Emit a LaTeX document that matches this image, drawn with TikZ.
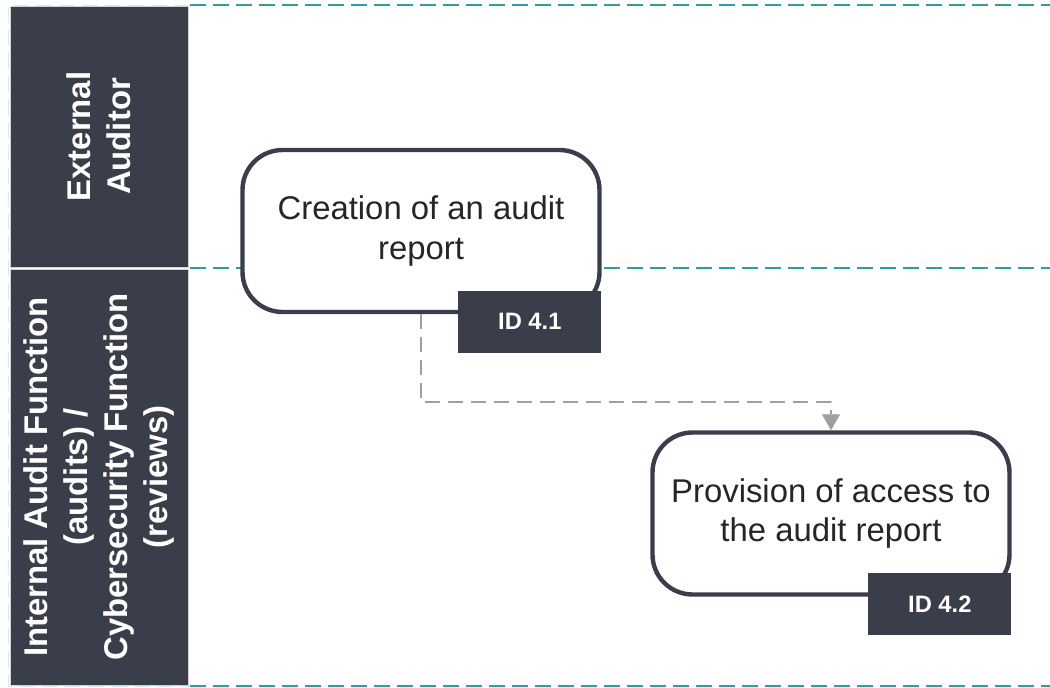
\documentclass[tikz,border=0pt]{standalone}
\usepackage{fontspec}
\setmainfont{Liberation Sans}
\usetikzlibrary{arrows.meta, positioning, calc}
\definecolor{lane_dark}{RGB}{57, 62, 74}
\definecolor{lane_teal}{RGB}{42, 160, 162}
\definecolor{flow_gray}{RGB}{160, 160, 160}

\begin{document}
\begin{tikzpicture}[
    % Node styles
    lane/.style={
        rectangle,
        draw=gray!35,
        fill=lane_dark,
        text=white,
        minimum width=3.56cm,
        minimum height=#1,
        inner sep=0pt
    },
    lanetext/.style={
        rotate=90,
        text=white,
        align=center,
        font=\fontsize{18.7}{22.7}\selectfont\bfseries
    },
    activity/.style={
        rectangle,
        draw=lane_dark,
        fill=white,
        line width=2.5pt,
        rounded corners=0.8cm,
        minimum width=7.14cm,
        minimum height=3.24cm,
        align=center,
        text=black!85,
        font=\fontsize{18.7}{22.5}\selectfont
    },
    idtag/.style={
        rectangle,
        fill=lane_dark,
        text=white,
        minimum width=2.86cm,
        minimum height=1.24cm,
        font=\fontsize{13.5}{16}\selectfont\bfseries
    },
    separator/.style={
        draw=#1,
        line width=1.1pt,
        dash pattern=on 0.32cm off 0.14cm
    },
    flow/.style={
        -{Triangle[length=0.32cm,width=0.36cm,fill=flow_gray,line width=0.4pt]},
        draw=flow_gray,
        line width=1.1pt,
        dash pattern=on 0.3cm off 0.16cm
    }
]
\useasboundingbox (0,0) rectangle (21,13.76);

% lanes
\node[lane=5.22cm] (external) at (1.98,11.03) {};
\node[lane=8.32cm] (internal) at (1.98,4.22) {};
\node[lanetext] (external_label) at (external.center) {External\\Auditor};
\node[lanetext] (internal_label) at (internal.center) {Internal Audit Function\\(audits) /\\Cybersecurity Function\\(reviews)};

% lane borders
\coordinate (top_end) at (21,13.66);
\coordinate (mid_end) at (21,8.40);
\coordinate (bot_end) at (21,0.04);
\draw[separator=lane_teal] (3.80,13.66) -- (top_end);
\draw[separator=lane_teal] (3.80,8.40) -- (mid_end);
\draw[separator=lane_teal] (3.80,0.04) -- (bot_end);
\draw[separator=lane_teal!20, line width=0.5pt] (3.80,13.66) -- (0.16,13.66) -- (0.16,0.04) -- (3.80,0.04);

% activities
\node[activity] (report) at (8.42,9.14) {Creation of an audit\\report};
\node[idtag, anchor=north east] (id41) at ([yshift=0.48cm]report.south east) {ID 4.1};

\node[activity] (access) at (16.62,3.49) {Provision of access to\\the audit report};
\node[idtag, anchor=north east] (id42) at ([yshift=0.48cm]access.south east) {ID 4.2};

% flow
\draw[flow] (report.south) -- ++(0,-1.76) -| (access.north);

\end{tikzpicture}
\end{document}
